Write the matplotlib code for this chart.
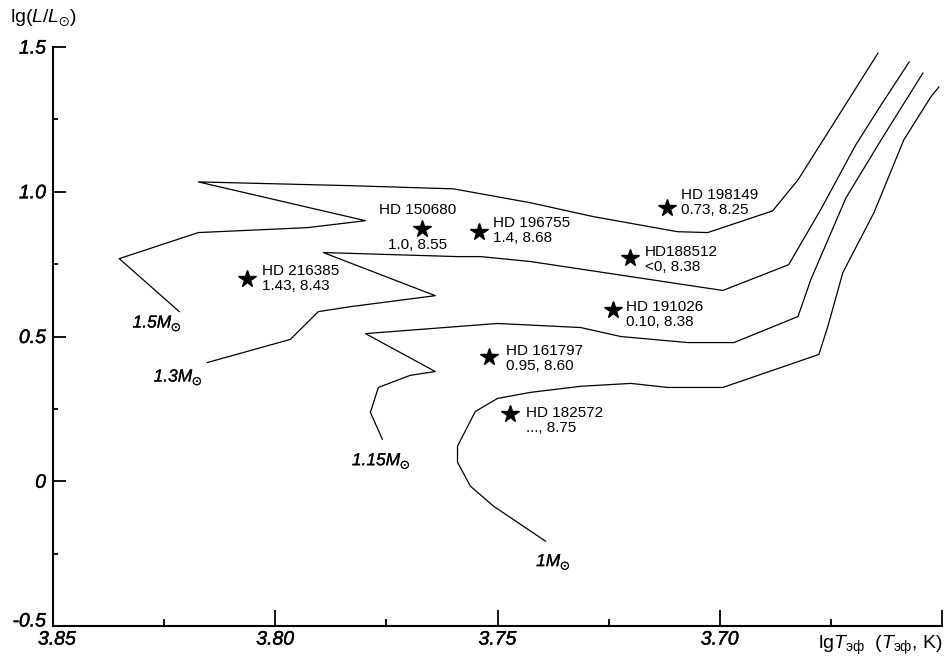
import matplotlib.pyplot as plt
import matplotlib.patheffects as pe
from matplotlib.transforms import ScaledTranslation

plt.rcParams['font.family'] = ['Liberation Sans', 'DejaVu Sans']
plt.rcParams['mathtext.fontset'] = 'custom'
plt.rcParams['mathtext.rm'] = 'Liberation Sans'
plt.rcParams['mathtext.it'] = 'Liberation Sans:italic'
plt.rcParams['mathtext.bf'] = 'Liberation Sans:bold'
plt.rcParams['mathtext.fallback'] = 'stixsans'

# Evolutionary tracks: lg Teff and lg(L/Lsun) along each track
track_15_teff = [3.8216, 3.8351, 3.8173, 3.7928, 3.7797, 3.8173, 3.7831, 3.7599, 3.7426,
                 3.7284, 3.7095, 3.7027, 3.6881, 3.6824, 3.6743, 3.6644]
track_15_lum = [0.586, 0.769, 0.859, 0.876, 0.900, 1.034, 1.021, 1.010, 0.962,
                0.914, 0.862, 0.859, 0.934, 1.041, 1.238, 1.479]

track_13_teff = [3.8153, 3.7966, 3.7903, 3.7831, 3.7640, 3.7892, 3.7590, 3.7538, 3.7426,
                 3.7110, 3.6993, 3.6845, 3.6773, 3.6694, 3.6637, 3.6574]
track_13_lum = [0.410, 0.490, 0.586, 0.603, 0.641, 0.790, 0.776, 0.776, 0.759,
                0.686, 0.659, 0.748, 0.938, 1.162, 1.300, 1.448]

track_115_teff = [3.7759, 3.7786, 3.7768, 3.7696, 3.7640, 3.7797, 3.7500, 3.7313, 3.7223,
                  3.7072, 3.6968, 3.6824, 3.6795, 3.6716, 3.6637, 3.6543]
track_115_lum = [0.145, 0.238, 0.324, 0.366, 0.379, 0.510, 0.545, 0.531, 0.500,
                 0.479, 0.479, 0.569, 0.697, 0.979, 1.179, 1.410]

track_10_teff = [3.7392, 3.7509, 3.7561, 3.7590, 3.7590, 3.7550, 3.7500, 3.7426, 3.7313,
                 3.7200, 3.7117, 3.6993, 3.6777, 3.6757, 3.6723, 3.6653, 3.6586, 3.6525, 3.6507]
track_10_lum = [-0.207, -0.086, -0.017, 0.066, 0.121, 0.241, 0.286, 0.307, 0.328,
                0.338, 0.324, 0.324, 0.438, 0.534, 0.721, 0.928, 1.179, 1.328, 1.362]

track_masses = ['1.5', '1.3', '1.15', '1']

# Programme stars
star_names = ['HD 216385', 'HD 150680', 'HD 196755', 'HD 198149',
              'HD188512', 'HD 191026', 'HD 161797', 'HD 182572']
star_values = ['1.43, 8.43', '1.0, 8.55', '1.4, 8.68', '0.73, 8.25',
               '<0, 8.38', '0.10, 8.38', '0.95, 8.60', '..., 8.75']
star_teff = [3.8063, 3.7669, 3.7541, 3.7119, 3.7203, 3.7241, 3.7520, 3.7473]
star_lum = [0.700, 0.872, 0.862, 0.945, 0.772, 0.590, 0.428, 0.231]

fig = plt.figure(figsize=(9.46, 6.58), dpi=100)
ax = fig.add_axes([53 / 946, 1 - 626 / 658, 889 / 946, 579 / 658])

# a thin outline makes the italic labels a little heavier
heavy = [pe.withStroke(linewidth=0.3, foreground='black')]

tracks = [(track_15_teff, track_15_lum), (track_13_teff, track_13_lum),
          (track_115_teff, track_115_lum), (track_10_teff, track_10_lum)]
label_offsets = [(-22, -12), (-29, -15), (-1, -22), (8, -21)]
for (tx, ty), m, off in zip(tracks, track_masses, label_offsets):
    ax.plot(tx, ty, color='black', lw=0.9)
    ax.annotate(m + r'$M_{\odot}$', (tx[0], ty[0]), xytext=off, textcoords='offset pixels',
                ha='center', va='center', fontsize=12.5, fontstyle='italic',
                path_effects=[pe.withStroke(linewidth=0.2, foreground='black')])

ax.plot(star_teff, star_lum, linestyle='none', marker='*', color='black',
        markersize=13)

# label block placement next to each star (pixels)
text_offsets = [(15, 0), None, (14, 1), (14, 5), (15, -2), (13, -4), (17, -1), (16, -6)]
for name, val, x, y, off in zip(star_names, star_values, star_teff, star_lum, text_offsets):
    if off is None:
        ax.annotate(name, (x, y), xytext=(-5, 19), textcoords='offset pixels',
                    ha='center', va='center', fontsize=11)
        ax.annotate(val, (x, y), xytext=(-5, -16), textcoords='offset pixels',
                    ha='center', va='center', fontsize=11)
    else:
        ax.annotate(name + '\n' + val, (x, y), xytext=off, textcoords='offset pixels',
                    ha='left', va='center', fontsize=11, linespacing=1.05)

ax.set_xlim(3.85, 3.65)
ax.set_ylim(-0.5, 1.5)
ax.set_xticks([3.85, 3.80, 3.75, 3.70, 3.65])
ax.set_xticklabels(['3.85', '3.80', '3.75', '3.70', ''])
ax.set_xticks([3.825, 3.775, 3.725, 3.675], minor=True)
ax.set_yticks([-0.5, 0, 0.5, 1.0, 1.5])
ax.set_yticklabels(['-0.5', '0', '0.5', '1.0', '1.5'])
ax.set_yticks([-0.25, 0.25, 0.75, 1.25], minor=True)

ax.tick_params(axis='x', which='major', direction='in', length=11.5, width=1.3, pad=4)
ax.tick_params(axis='x', which='minor', direction='in', length=5, width=1.3)
ax.tick_params(axis='y', which='major', direction='in', length=9.5, width=1.3, pad=5)
ax.tick_params(axis='y', which='minor', direction='in', length=3.6, width=1.3)
for lab in ax.get_xticklabels() + ax.get_yticklabels():
    lab.set_fontstyle('italic')
    lab.set_fontsize(14)
    lab.set_path_effects(heavy)

# keep the corner labels apart
ylab0 = ax.get_yticklabels()[0]
ylab0.set_transform(ylab0.get_transform() + ScaledTranslation(0, 6 / 100, fig.dpi_scale_trans))
xlab0 = ax.get_xticklabels()[0]
xlab0.set_transform(xlab0.get_transform() + ScaledTranslation(4 / 100, 0, fig.dpi_scale_trans))

ax.spines['top'].set_visible(False)
ax.spines['right'].set_visible(False)
ax.spines['left'].set_linewidth(1.5)
ax.spines['bottom'].set_linewidth(1.5)

fig.text(10 / 946, 1 - 18 / 658, r'lg($\mathit{L/L}_{\odot}$)', ha='left', va='center',
         fontsize=14)
fig.text(943 / 946, 1 - 645 / 658,
         r'lg$\mathit{T}_{\mathrm{эф}}$  ($\mathit{T}_{\mathrm{эф}}$, K)',
         ha='right', va='center', fontsize=14)

fig.savefig('out.png', dpi=100)
